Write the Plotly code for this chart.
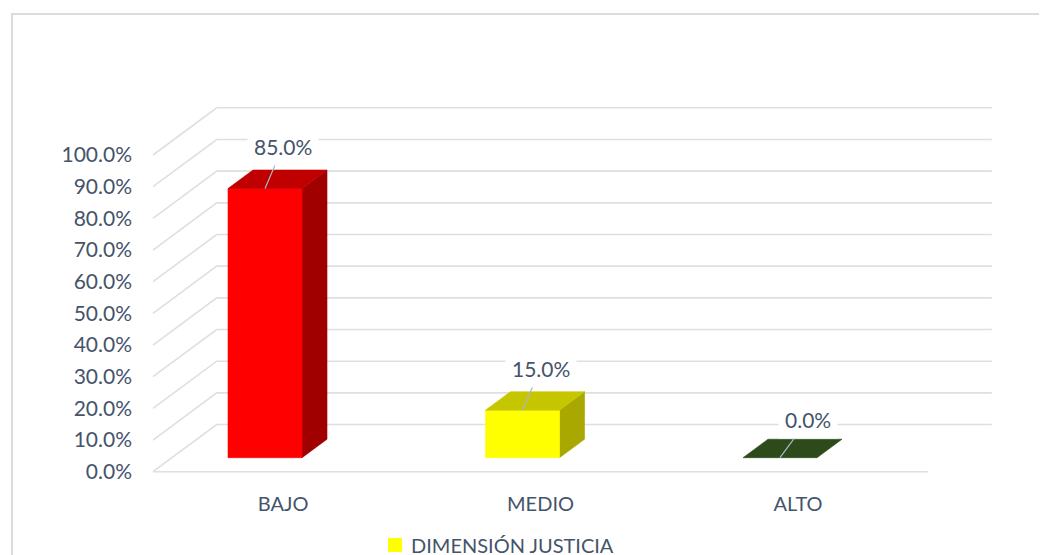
import plotly.graph_objects as go

# ---------------- data ----------------
categories = ["BAJO", "MEDIO", "ALTO"]
values = [85.0, 15.0, 0.0]
y_ticks = [0, 10, 20, 30, 40, 50, 60, 70, 80, 90, 100]
series_name = "DIMENSIÓN JUSTICIA"

# ---------------- style ----------------
front_colors = ["#FF0000", "#FFFF00", "#2D4A1B"]
top_colors = ["#C00000", "#C6C600", "#2D4A1B"]
side_colors = ["#A00000", "#A8A800", "#2D4A1B"]
legend_color = "#FFFF00"
text_color = "#44546A"
grid_color = "#DCDFE4"
leader_color = "#A9B7C9"
FONT = "Lato"

# pseudo-3D geometry (in axis units)
FLOOR_X0, FLOOR_X1 = -0.435, 2.575   # front floor edge, category units
WALL_DX, WALL_DY = 0.2474, 14.9      # depth offset of back wall
BAR_BASE = 4.42                       # bar front base (screen-y offset due to depth)
BAR_HW = 0.1437                       # half width of bar front face
BAR_DX, BAR_DY = 0.0971, 5.84        # bar depth offset
LABEL_SHIFT = 0.07                    # category label shift

fig = go.Figure()

# gridlines: left wall diagonals + back wall lines, and front floor edge
gx, gy = [], []
for v in y_ticks:
    gx += [FLOOR_X0, FLOOR_X0 + WALL_DX, FLOOR_X1 + WALL_DX, None]
    gy += [v, v + WALL_DY, v + WALL_DY, None]
gx += [FLOOR_X0, FLOOR_X1, None]
gy += [0, 0, None]
fig.add_trace(go.Scatter(x=gx, y=gy, mode="lines",
                         line=dict(color=grid_color, width=1.6),
                         hoverinfo="skip", showlegend=False))

# bars as 3 faces each
for i, (cat, v) in enumerate(zip(categories, values)):
    base = BAR_BASE
    top = BAR_BASE + v
    xl, xr = i - BAR_HW, i + BAR_HW
    if v > 0:
        # side face
        fig.add_trace(go.Scatter(
            x=[xr, xr + BAR_DX, xr + BAR_DX, xr, xr],
            y=[base, base + BAR_DY, top + BAR_DY, top, base],
            mode="lines", fill="toself", fillcolor=side_colors[i],
            line=dict(color=side_colors[i], width=0.6),
            hoverinfo="skip", showlegend=False))
        # front face
        fig.add_trace(go.Scatter(
            x=[xl, xr, xr, xl, xl],
            y=[base, base, top, top, base],
            mode="lines", fill="toself", fillcolor=front_colors[i],
            line=dict(color=front_colors[i], width=0.6),
            name=cat, hovertemplate=f"{cat}: {v:.1f}%<extra></extra>",
            showlegend=False))
    # top face
    fig.add_trace(go.Scatter(
        x=[xl, xr, xr + BAR_DX, xl + BAR_DX, xl],
        y=[top, top, top + BAR_DY, top + BAR_DY, top],
        mode="lines", fill="toself", fillcolor=top_colors[i],
        line=dict(color=top_colors[i], width=0.6),
        hovertemplate=f"{cat}: {v:.1f}%<extra></extra>",
        showlegend=False))
    # value label with leader line
    fig.add_annotation(
        x=i, y=top, xref="x", yref="y",
        text=f"{v:.1f}%", showarrow=True, arrowhead=0, arrowwidth=1.2,
        arrowcolor=leader_color, ax=18 if v > 0 else 28, ay=-42 if v > 0 else -38,
        standoff=0, bgcolor="white", borderpad=6,
        font=dict(family=FONT, size=21, color=text_color))

# chart frame
fig.add_shape(type="rect", xref="paper", yref="paper",
              x0=-0.1349, x1=1.02, y0=-0.25, y1=0.9873,
              line=dict(color="#D9DCE0", width=2), fillcolor="rgba(0,0,0,0)",
              layer="below")

# legend (square + text)
fig.add_shape(type="rect", xref="paper", yref="paper",
              x0=0.2742, x1=0.2894, y0=-0.1525, y1=-0.1229,
              line=dict(width=0), fillcolor=legend_color)
fig.add_annotation(x=0.2971, y=-0.1377, xref="paper", yref="paper",
                   xanchor="left", yanchor="middle", showarrow=False,
                   text=series_name,
                   font=dict(family=FONT, size=20, color=text_color))

fig.update_layout(
    width=1047, height=555, autosize=False,
    margin=dict(l=128, r=0, t=0, b=83),
    paper_bgcolor="white", plot_bgcolor="white",
    showlegend=False,
    font=dict(family=FONT, size=20, color=text_color),
)
fig.update_xaxes(range=[-0.50097, 3.068], showgrid=False, zeroline=False,
                 showline=False, ticks="",
                 tickvals=[i + LABEL_SHIFT for i in range(len(categories))],
                 ticktext=categories, ticklabelstandoff=10,
                 tickfont=dict(family=FONT, size=20, color=text_color))
fig.update_yaxes(range=[-2.62, 146.42], showgrid=False, zeroline=False,
                 showline=False, ticks="",
                 tickvals=y_ticks, ticktext=[f"{v:.1f}%" for v in y_ticks],
                 ticklabelstandoff=3,
                 tickfont=dict(family=FONT, size=21, color=text_color))

fig.write_html("out.html")
